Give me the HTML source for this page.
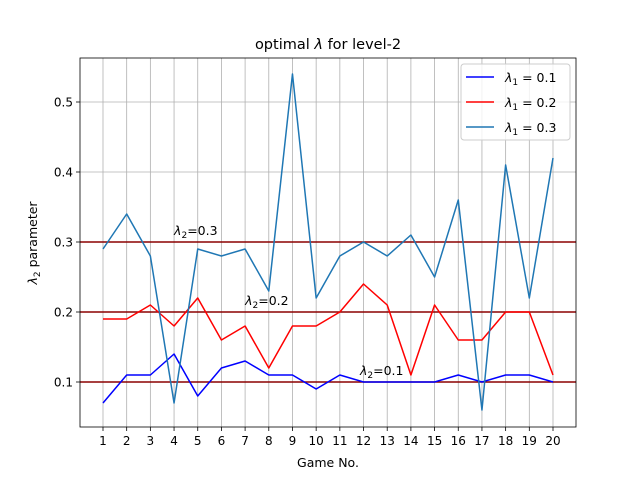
<!DOCTYPE html>
<html><head><meta charset="utf-8"><style>
body{margin:0;background:#fff}
svg text{font-family:"DejaVu Sans","Liberation Sans",sans-serif;fill:#000}
</style></head><body>
<svg id="chart" width="640" height="480" xmlns="http://www.w3.org/2000/svg">
<rect width="640" height="480" fill="#fff"/>
<g id="grid"></g>
<g id="hlines"></g>
<g id="series"></g>
<rect x="80" y="58" width="496" height="369" fill="none" stroke="#000" stroke-width="0.8"/>
<g id="ticks"></g>
<text x="328" y="49" font-size="14.5" text-anchor="middle">optimal <tspan font-style="italic">λ</tspan> for level-2</text>
<text x="328" y="467" font-size="12.5" text-anchor="middle">Game No.</text>
<text transform="translate(37,243) rotate(-90)" font-size="12.5" text-anchor="middle"><tspan font-style="italic">λ</tspan><tspan font-size="9" dy="3">2</tspan><tspan dy="-3"> parameter</tspan></text>
<g id="annot"></g>
<g>
<rect x="461" y="64" width="109" height="76" rx="3" fill="#fff" fill-opacity="0.8" stroke="#ccc"/>
<g id="legend"></g>
</g>
</svg>
<script>
const games=[1,2,3,4,5,6,7,8,9,10,11,12,13,14,15,16,17,18,19,20];
const lam01=[0.07,0.11,0.11,0.14,0.08,0.12,0.13,0.11,0.11,0.09,0.11,0.10,0.10,0.10,0.10,0.11,0.10,0.11,0.11,0.10];
const lam02=[0.19,0.19,0.21,0.18,0.22,0.16,0.18,0.12,0.18,0.18,0.20,0.24,0.21,0.11,0.21,0.16,0.16,0.20,0.20,0.11];
const lam03=[0.29,0.34,0.28,0.07,0.29,0.28,0.29,0.23,0.54,0.22,0.28,0.30,0.28,0.31,0.25,0.36,0.06,0.41,0.22,0.42];
const yTicks=[0.1,0.2,0.3,0.4,0.5];
const refLevels=[0.1,0.2,0.3];
const annotX=[11.85,7,4];
const labels=["0.1","0.2","0.3"];
const NS="http://www.w3.org/2000/svg";
const X=v=>103+(v-1)*(450/19);
const Y=v=>452-v*700;
function mk(tag,attrs,parent){const e=document.createElementNS(NS,tag);for(const k in attrs)e.setAttribute(k,attrs[k]);document.getElementById(parent).appendChild(e);return e;}
games.forEach(g=>{
 const l=mk('line',{x1:X(g),x2:X(g),y1:58,y2:427,stroke:'#b0b0b0','stroke-width':0.8},'grid');
 
 
 const t=mk('line',{x1:X(g),x2:X(g),y1:427,y2:431,stroke:'#000','stroke-width':0.8},'ticks');
 
 
 const tx=mk('text',{x:X(g),y:445,'font-size':12,'text-anchor':'middle'},'ticks');tx.textContent=g;
 
 
});
yTicks.forEach(v=>{
 const l=mk('line',{x1:80,x2:576,y1:Y(v),y2:Y(v),stroke:'#b0b0b0','stroke-width':0.8},'grid');
 
 
 const t=mk('line',{x1:76,x2:80,y1:Y(v),y2:Y(v),stroke:'#000','stroke-width':0.8},'ticks');
 
 
 const tx=mk('text',{x:73,y:Y(v)+4.5,'font-size':12,'text-anchor':'end'},'ticks');tx.textContent=v.toFixed(1);
 
 
});
refLevels.forEach((v,i)=>{
 const l=mk('line',{x1:80,x2:576,y1:Y(v),y2:Y(v),stroke:'#8b0000','stroke-width':1.5},'hlines');
 
 
 const t=mk('text',{x:X(annotX[i]),y:Y(v+0.01),'font-size':12.5},'annot');
 t.innerHTML='<tspan font-style="italic">λ</tspan><tspan font-size="9" dy="3">2</tspan><tspan dy="-3">='+labels[i]+'</tspan>';
 
 
});
const ser=[[lam01,'#0000ff','0.1'],[lam02,'#ff0000','0.2'],[lam03,'#1f77b4','0.3']];
ser.forEach((s,i)=>{
 const p=mk('polyline',{points:games.map((g,j)=>X(g)+','+Y(s[0][j])).join(' '),fill:'none',stroke:s[1],'stroke-width':1.5,'stroke-linejoin':'round'},'series');
 
 
 const y=77+i*25;
 const ll=mk('line',{x1:466,x2:494,y1:y,y2:y,stroke:s[1],'stroke-width':1.5},'legend');
 
 
 const t=mk('text',{x:505,y:y+5,'font-size':12.5},'legend');
 t.innerHTML='<tspan font-style="italic">λ</tspan><tspan font-size="9" dy="3">1</tspan><tspan dy="-3"> = '+s[2]+'</tspan>';
 
 
});
</script>
</body></html>
